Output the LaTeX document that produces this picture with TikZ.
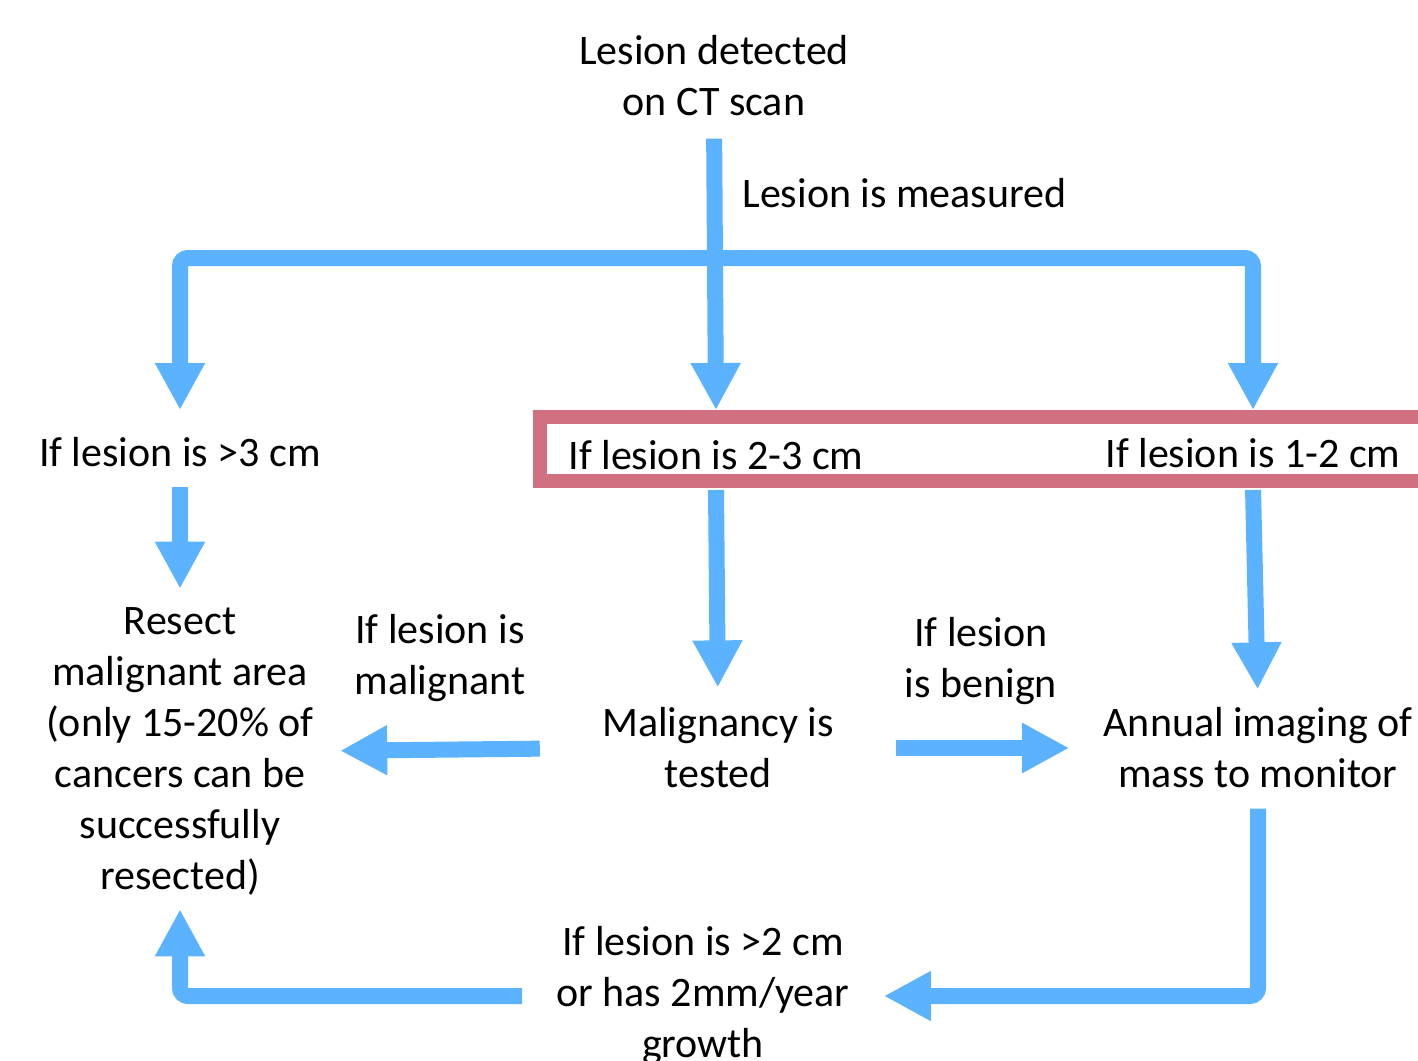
\documentclass[tikz,border=0pt]{standalone}
\usepackage{fontspec}
\setmainfont{Carlito}
\usetikzlibrary{arrows.meta}
\definecolor{arrowblue}{RGB}{91,178,255}
\definecolor{boxred}{RGB}{208,112,128}

\begin{document}
\begin{tikzpicture}[x=0.5pt,y=-0.5pt,
        txt/.style={align=center,inner sep=0pt,font=\fontsize{21}{25.5}\selectfont},
        flow/.style={line width=8pt,draw=arrowblue,rounded corners=4pt,
                -{Triangle[length=23.5pt,width=23.5pt]}},
        rangebox/.style={draw=boxred,line width=7pt,minimum width=445pt,
                minimum height=32pt,inner sep=0pt}]
        \useasboundingbox (0,0) rectangle (1418,1060);
        \node[txt] (detect) at (714,76) {Lesion detected\\on CT scan};
        \node[txt,anchor=west] (measured) at (742,193) {Lesion is measured};
        \node[rangebox] (range) at (985,449) {};
        \node[txt] (big) at (180,452) {If lesion is >3 cm};
        \node[txt] (mid) at (716,455) {If lesion is 2-3 cm};
        \node[txt] (small) at (1253,453) {If lesion is 1-2 cm};
        \node[txt] (resect) at (180,751) {Resect\\malignant area\\(only 15-20\% of\\cancers can be\\successfully\\resected)};
        \node[txt] (malig) at (440,658) {If lesion is\\malignant};
        \node[txt] (tested) at (718,748) {Malignancy is\\tested};
        \node[txt] (benign) at (981,661) {If lesion\\is benign};
        \node[txt] (annual) at (1258,748) {Annual imaging of\\mass to monitor};
        \node[txt] (grow) at (703,996) {If lesion is >2 cm\\or has 2mm/year\\growth};
        \coordinate (split) at (714,258);
        \draw[flow,shorten <=11pt] (detect.south) -- (mid |- range.north);
        \draw[flow] (split) -| (big |- range.north);
        \draw[flow] (split) -| (small |- range.north);
        \draw[flow,shorten <=10pt,shorten >=9pt] (big.south) -- (resect.north);
        \draw[flow,shorten <=1pt,shorten >=10pt] (mid |- range.south) -- (tested.north);
        \draw[flow,shorten <=1pt,shorten >=9pt] (small |- range.south) -- (annual.north);
        \draw[flow,shorten <=31pt,shorten >=13pt] (tested.west) -- (resect.east);
        \draw[flow,shorten <=31pt,shorten >=17pt] (tested.east) -- (annual.west);
        \draw[flow,shorten <=10pt,shorten >=17pt] (annual.south) |- (grow.east);
        \draw[flow,shorten <=17pt,shorten >=7pt] (grow.west) -| (resect.south);
\end{tikzpicture}
\end{document}
